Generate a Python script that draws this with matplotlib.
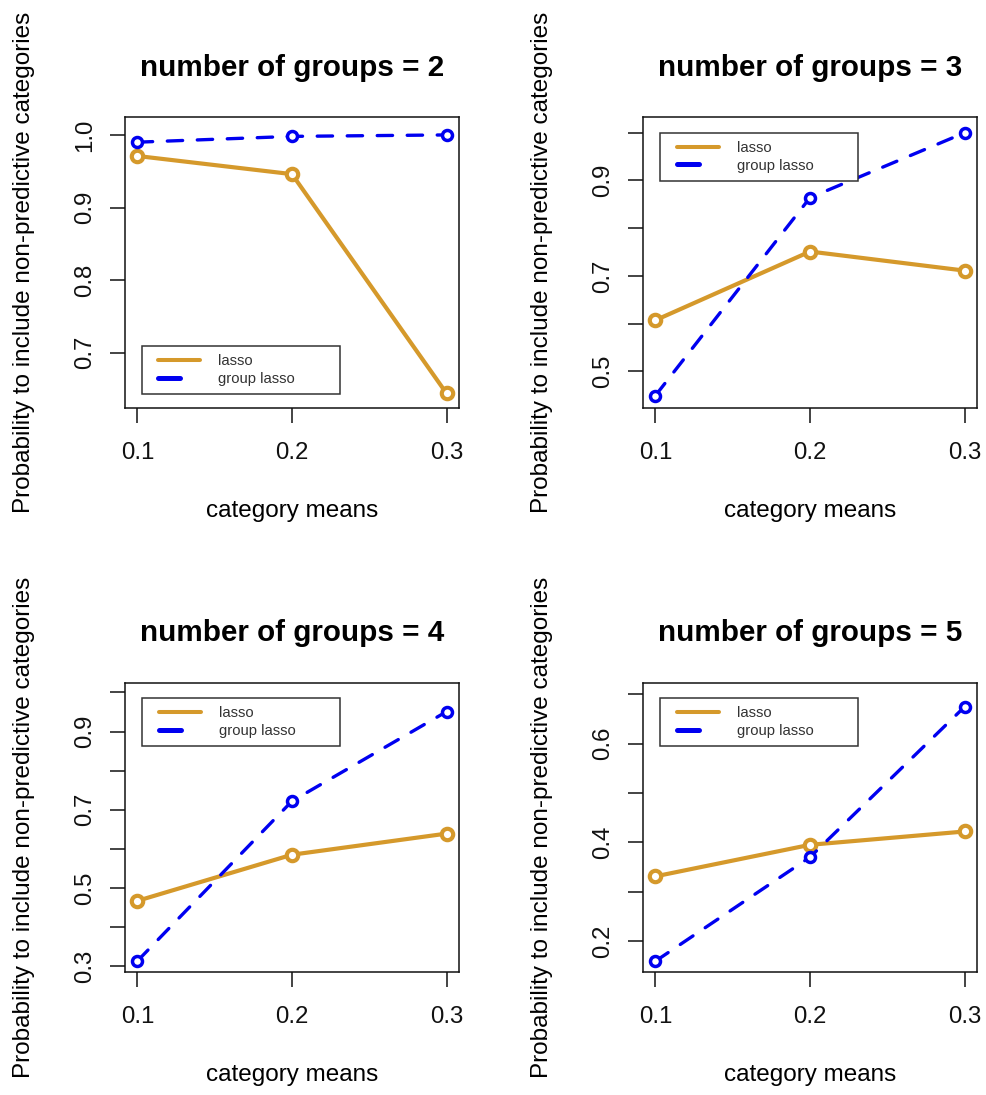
import matplotlib.pyplot as plt
from matplotlib.lines import Line2D
from matplotlib.legend_handler import HandlerLine2D

plt.rcParams['font.family'] = ['Liberation Sans', 'DejaVu Sans']

# category means on the x axis
x = [0.1, 0.2, 0.3]
xticks = [0.1, 0.2, 0.3]
xlim = (0.092, 0.308)

# number of groups = 2
lasso_2 = [0.971, 0.946, 0.644]
group_2 = [0.990, 0.998, 1.000]
yticks_2 = [0.7, 0.8, 0.9, 1.0]
ylabels_2 = ['0.7', '0.8', '0.9', '1.0']
ylim_2 = (0.624, 1.024)

# number of groups = 3
lasso_3 = [0.607, 0.751, 0.711]
group_3 = [0.449, 0.864, 1.000]
yticks_3 = [0.5, 0.6, 0.7, 0.8, 0.9, 1.0]
ylabels_3 = ['0.5', '', '0.7', '', '0.9', '']
ylim_3 = (0.423, 1.032)

# number of groups = 4
lasso_4 = [0.467, 0.585, 0.639]
group_4 = [0.313, 0.722, 0.951]
yticks_4 = [0.3, 0.4, 0.5, 0.6, 0.7, 0.8, 0.9, 1.0]
ylabels_4 = ['0.3', '', '0.5', '', '0.7', '', '0.9', '']
ylim_4 = (0.285, 1.024)

# number of groups = 5
lasso_5 = [0.331, 0.395, 0.422]
group_5 = [0.159, 0.370, 0.675]
yticks_5 = [0.2, 0.3, 0.4, 0.5, 0.6, 0.7]
ylabels_5 = ['0.2', '', '0.4', '', '0.6', '']
ylim_5 = (0.137, 0.723)

ORANGE = '#D5992B'
BLUE = '#0000F0'

panels = [
    (2, lasso_2, group_2, yticks_2, ylabels_2, ylim_2, 'lower left'),
    (3, lasso_3, group_3, yticks_3, ylabels_3, ylim_3, 'upper left'),
    (4, lasso_4, group_4, yticks_4, ylabels_4, ylim_4, 'upper left'),
    (5, lasso_5, group_5, yticks_5, ylabels_5, ylim_5, 'upper left'),
]

# axes boxes in figure fraction (left, bottom, width, height)
boxes = [
    (0.1266, 0.6274, 0.3384, 0.2653),
    (0.6515, 0.6274, 0.3384, 0.2653),
    (0.1266, 0.1123, 0.3384, 0.2639),
    (0.6515, 0.1123, 0.3384, 0.2639),
]

fig = plt.figure(figsize=(9.87, 10.95), dpi=100)

for (n, lasso, group, yt, yl, ylim, legloc), box in zip(panels, boxes):
    ax = fig.add_axes(box)

    ax.plot(x, lasso, color=ORANGE, lw=3.0, solid_capstyle='round',
            marker='o', ms=8.2, mew=3.0, mfc='white', mec=ORANGE, zorder=3)
    ax.plot(x, group, color=BLUE, lw=2.4, dashes=(4.6, 4.4),
            dash_capstyle='round', marker='o', ms=7.2, mew=2.5,
            mfc='white', mec=BLUE, zorder=4)

    ax.set_xlim(*xlim)
    ax.set_ylim(*ylim)
    ax.set_xticks(xticks)
    ax.set_xticklabels(['0.1', '0.2', '0.3'])
    ax.set_yticks(yt)
    ax.set_yticklabels(yl, rotation=90, va='center')

    ax.tick_params(direction='out', length=10.8, width=1.1, labelsize=17.3,
                   colors='#111111')
    ax.tick_params(axis='x', pad=14)
    ax.tick_params(axis='y', pad=10)
    for s in ax.spines.values():
        s.set_linewidth(1.1)
        s.set_color('#111111')

    ax.set_title(f'number of groups = {n}', fontsize=21.3,
                 fontweight='bold', pad=30)
    ax.set_xlabel('category means', fontsize=17.5)
    ax.set_ylabel('Probability to include non-predictive categories',
                  fontsize=17.5)
    ax.xaxis.set_label_coords(0.5, -0.317)
    ax.yaxis.set_label_coords(-0.27, 0.5)

    # legend
    h_lasso = Line2D([], [], color=ORANGE, lw=2.9, solid_capstyle='round')
    h_group = Line2D([], [], color=BLUE, lw=3.6, dashes=(4.4, 4.4),
                     dash_capstyle='round')
    if legloc == 'lower left':
        anchor = (0.05, 0.048, 0.593, 0.9)
    else:
        anchor = (0.052, 0.0, 0.593, 0.948)
    leg = ax.legend([h_lasso, h_group], ['lasso', 'group lasso'],
                    loc=legloc, bbox_to_anchor=anchor, mode='expand',
                    borderaxespad=0, fontsize=10.7, handlelength=3.38,
                    handletextpad=1.2, borderpad=0.55, labelspacing=0.26,
                    fancybox=False, framealpha=1, edgecolor='#333333',
                    handler_map={Line2D: HandlerLine2D(xpad=0.56)})
    leg.get_frame().set_linewidth(1.1)
    for t in leg.get_texts():
        t.set_color('#333333')

fig.savefig('out.png', dpi=100)
